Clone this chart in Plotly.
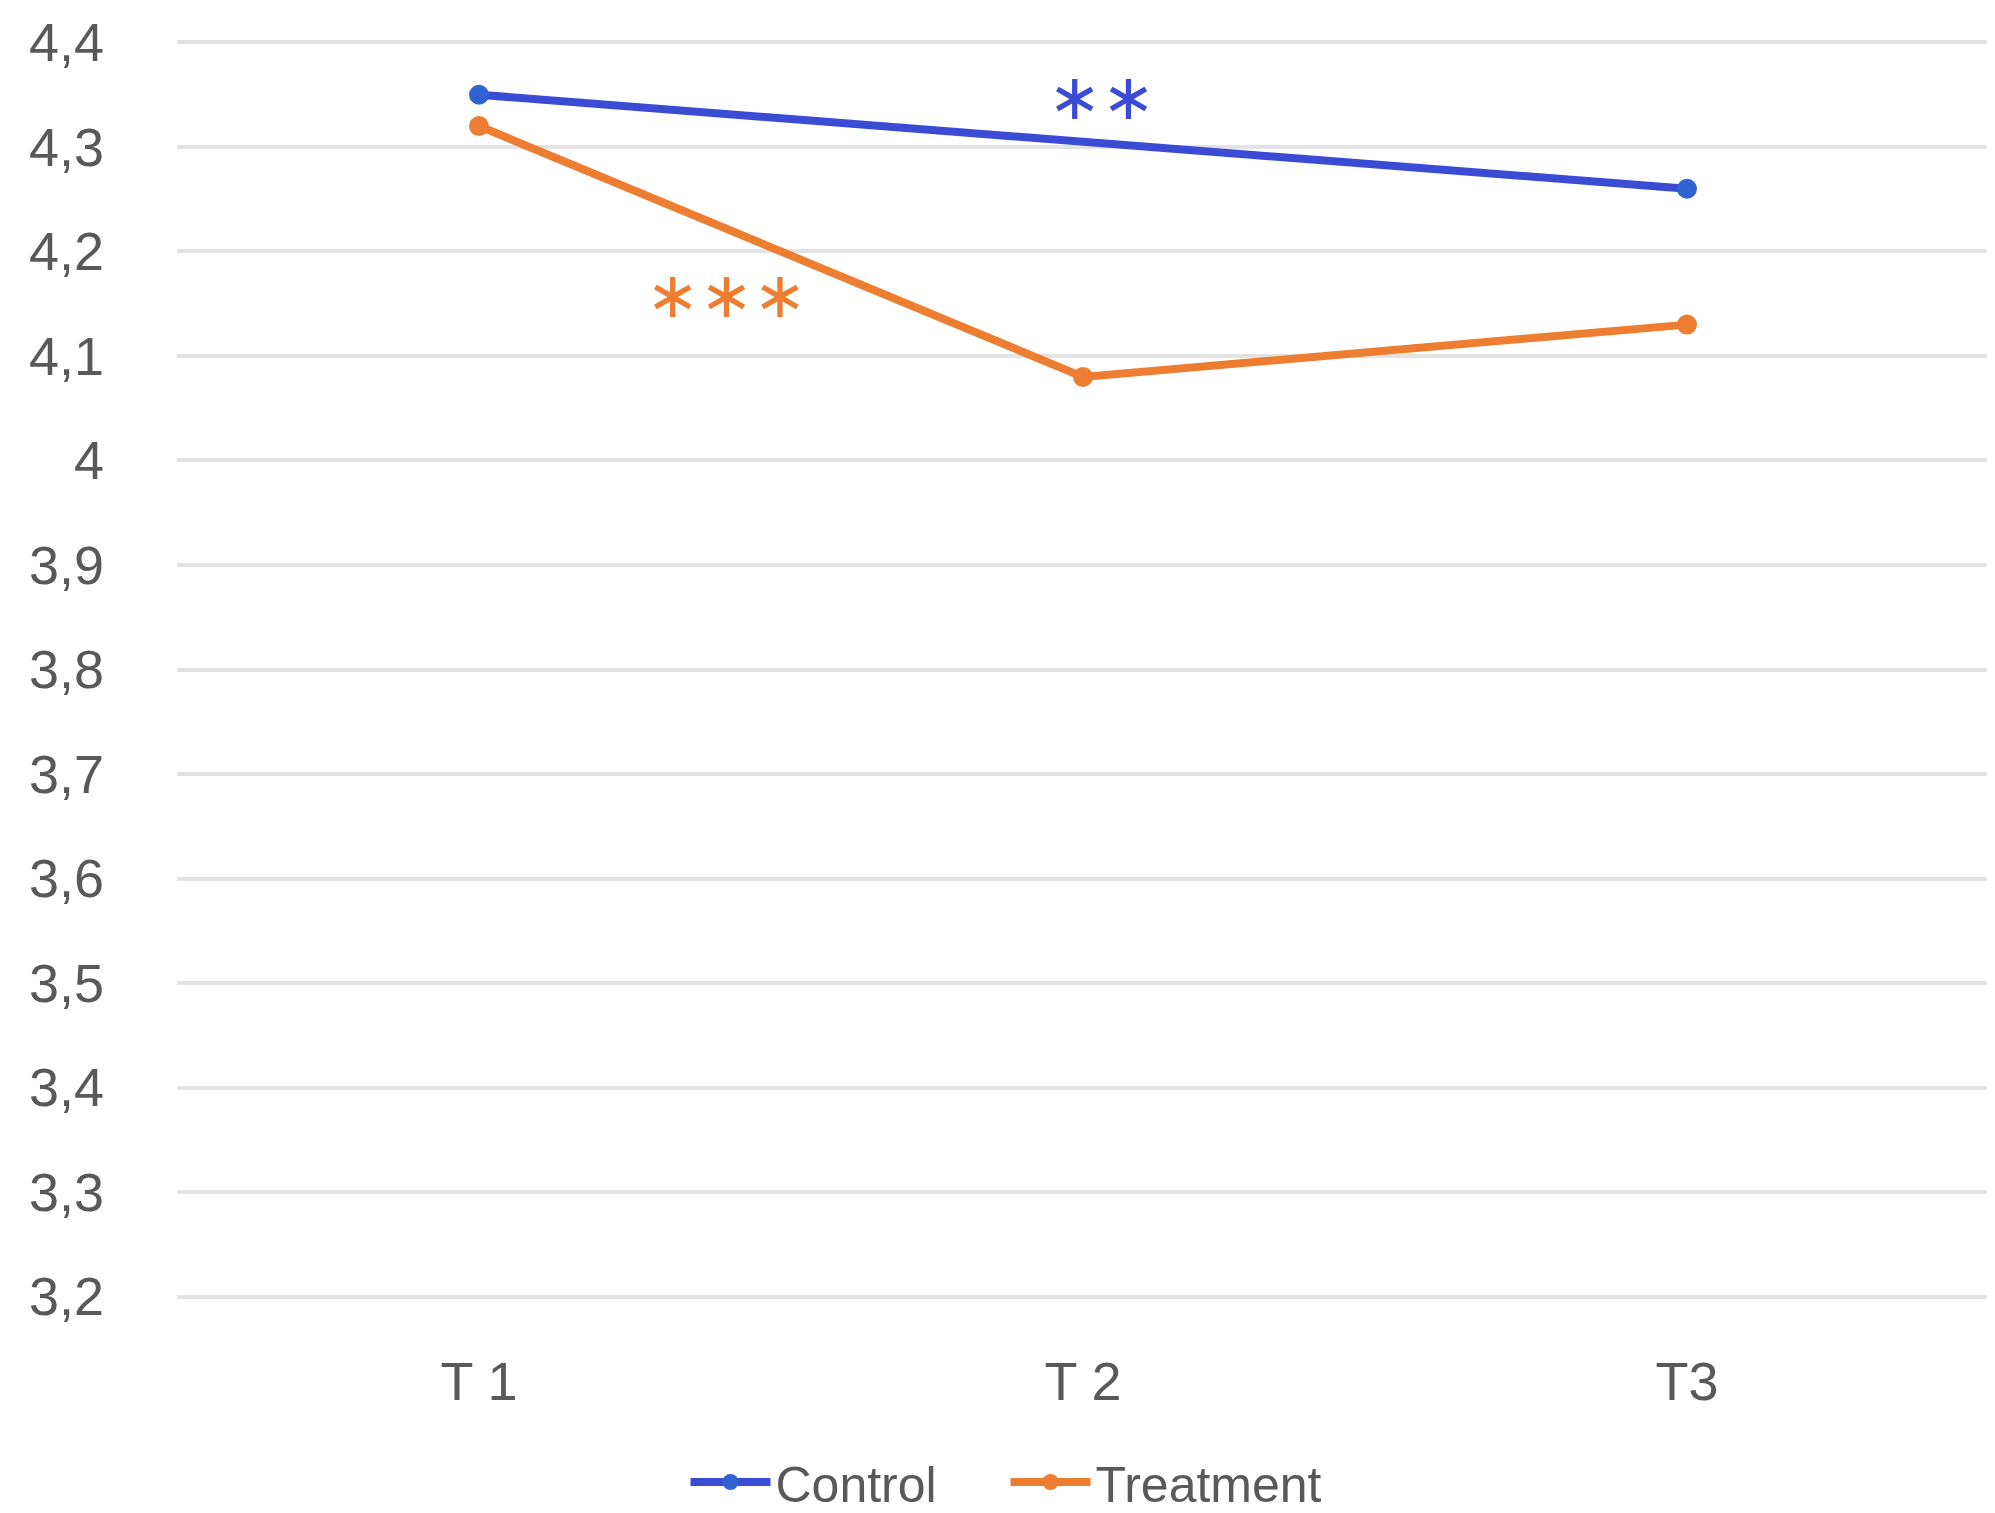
import plotly.graph_objects as go

# data
categories = ["T 1", "T 2", "T3"]
control = [4.35, None, 4.26]
treatment = [4.32, 4.08, 4.13]
y_ticks = [3.2, 3.3, 3.4, 3.5, 3.6, 3.7, 3.8, 3.9, 4.0, 4.1, 4.2, 4.3, 4.4]
sig_labels = ["∗∗", "∗∗∗"]
sig_x = [1.03, 0.41]
sig_y = [4.348, 4.158]

blue = "#3a4bd4"
orange = "#ed7d31"
font_fam = "Liberation Sans, Arial, sans-serif"

fig = go.Figure()
fig.add_trace(go.Scatter(x=list(range(len(categories))), y=control, name="Control",
                         mode="lines+markers", connectgaps=True,
                         line=dict(color=blue, width=8),
                         marker=dict(color="#3062d0", size=20, symbol="circle")))
fig.add_trace(go.Scatter(x=list(range(len(categories))), y=treatment, name="Treatment",
                         mode="lines+markers",
                         line=dict(color=orange, width=8),
                         marker=dict(color=orange, size=20, symbol="circle")))

for txt, xx, yy, col in zip(sig_labels, sig_x, sig_y, [blue, orange]):
    fig.add_annotation(x=xx, y=yy, text=txt, showarrow=False,
                       font=dict(size=64, color=col, family="DejaVu Sans"))

fig.update_xaxes(range=[-0.5, 2.5],
                 tickvals=list(range(len(categories))),
                 ticktext=categories,
                 showgrid=False, zeroline=False, showline=False,
                 ticks="", ticklabelstandoff=38, automargin=False,
                 tickfont=dict(size=54, color="#595959", family=font_fam))
fig.update_yaxes(range=[3.19, 4.41],
                 tickvals=y_ticks,
                 showgrid=True, gridcolor="#e3e3e3", gridwidth=4,
                 zeroline=False, showline=False, ticks="",
                 ticklabelstandoff=72, ticklabeloverflow="allow", automargin=False,
                 tickfont=dict(size=54, color="#595959", family=font_fam))

fig.update_layout(width=1995, height=1513,
                  margin=dict(l=169, r=14, t=24, b=214),
                  plot_bgcolor="white", paper_bgcolor="white",
                  separators=",.",
                  showlegend=True,
                  legend=dict(orientation="h", xref="container", yref="container",
                              x=0.5, xanchor="center", y=0.0, yanchor="bottom",
                              font=dict(size=50, color="#595959", family=font_fam),
                              itemwidth=80, entrywidth=225, traceorder="normal"))

fig.write_html("out.html")
